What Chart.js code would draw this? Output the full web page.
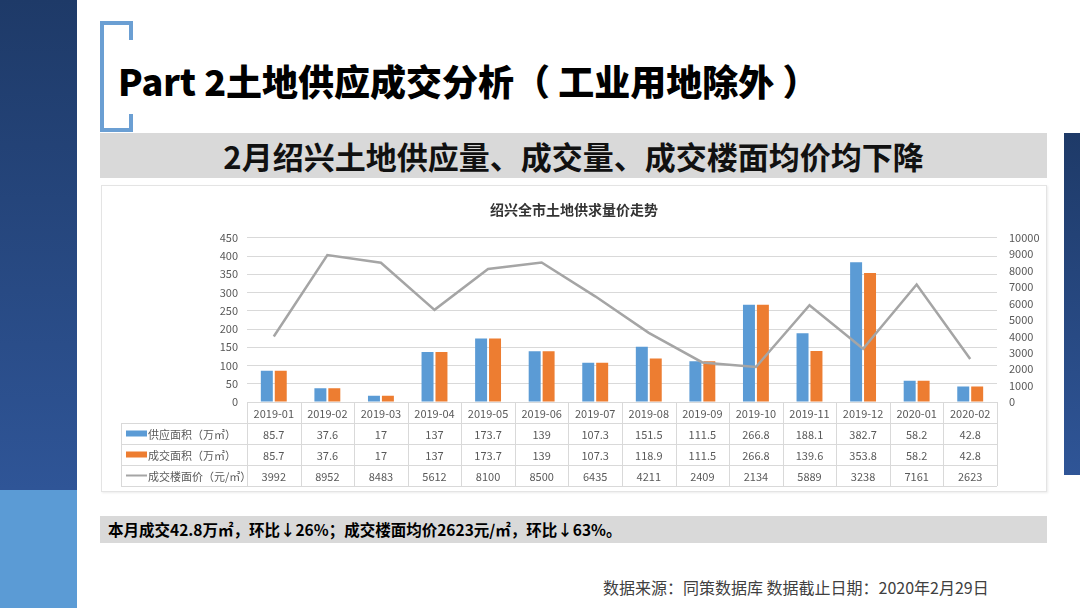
<!DOCTYPE html>
<html>
<head>
<meta charset="utf-8">
<script src="https://cdn.jsdelivr.net/npm/chart.js@4.4.1/dist/chart.umd.min.js"></script>
<style>
  body { margin: 0; width: 1080px; height: 608px; position: relative; overflow: hidden; background: #fff;
         font-family: "Noto Sans CJK SC", "Noto Sans", sans-serif; }
  .abs { position: absolute; }
  #leftBar { left: 0; top: 0; width: 77px; height: 490px; background: linear-gradient(#1e3a68, #2f5597); }
  #leftBarLow { left: 0; top: 490px; width: 77px; height: 118px; background: #5b9bd5; }
  #rightBar { left: 1064px; top: 133px; width: 16px; height: 342px; background: linear-gradient(#1e3a68, #2f5597); }
  .br { background: #6b9fd3; }
  #title { left: 118px; top: 56px; font-size: 36px; font-weight: 900; line-height: 48px; color: #000; white-space: nowrap; }
  #subBand { left: 100px; top: 133px; width: 947px; height: 45px; background: #d9d9d9;
             font-size: 31px; font-weight: 700; line-height: 45px; text-align: center; color: #111; }
  #chartBox { left: 101px; top: 185px; width: 946px; height: 307px; box-sizing: border-box;
              border: 1px solid #e4e4e4; box-shadow: 1px 1px 2px rgba(0,0,0,0.08); background: #fff; }
  #chartBox canvas { position: absolute; left: 0; top: 0; }
  #summary { left: 100px; top: 516px; width: 947px; height: 27px; background: #d9d9d9; box-sizing: border-box;
             padding-left: 8px; font-size: 15.5px; font-weight: 700; line-height: 27px; color: #000; white-space: nowrap; }
  #footer { left: 603px; top: 575px; font-size: 16px; line-height: 24px; color: #404040; white-space: nowrap; }
</style>
</head>
<body>
<div class="abs" id="leftBar"></div>
<div class="abs" id="leftBarLow"></div>
<div class="abs" id="rightBar"></div>

<!-- bracket -->
<div class="abs br" style="left:100px;top:21px;width:4px;height:111px"></div>
<div class="abs br" style="left:100px;top:21px;width:33px;height:4px"></div>
<div class="abs br" style="left:129px;top:21px;width:4px;height:19px"></div>
<div class="abs br" style="left:100px;top:128px;width:33px;height:4px"></div>
<div class="abs br" style="left:129px;top:114px;width:4px;height:18px"></div>

<div class="abs" id="title">Part 2土地供应成交分析（ 工业用地除外 ）</div>
<div class="abs" id="subBand">2月绍兴土地供应量、成交量、成交楼面均价均下降</div>

<div class="abs" id="chartBox">
  <canvas id="chart" width="944" height="305"></canvas>
</div>

<div class="abs" id="summary">本月成交42.8万㎡，环比↓26%；成交楼面均价2623元/㎡，环比↓63%。</div>
<div class="abs" id="footer">数据来源：同策数据库 数据截止日期：2020年2月29日</div>

<script>
// chart data
const categories = ['2019-01', '2019-02', '2019-03', '2019-04', '2019-05', '2019-06', '2019-07',
                    '2019-08', '2019-09', '2019-10', '2019-11', '2019-12', '2020-01', '2020-02'];
const supplyArea = [85.7, 37.6, 17, 137, 173.7, 139, 107.3, 151.5, 111.5, 266.8, 188.1, 382.7, 58.2, 42.8];
const dealArea = [85.7, 37.6, 17, 137, 173.7, 139, 107.3, 118.9, 111.5, 266.8, 139.6, 353.8, 58.2, 42.8];
const dealPrice = [3992, 8952, 8483, 5612, 8100, 8500, 6435, 4211, 2409, 2134, 5889, 3238, 7161, 2623];
const seriesNames = ['供应面积（万㎡）', '成交面积（万㎡）', '成交楼面价（元/㎡）'];

const BLUE = '#5b9bd5';
const ORANGE = '#ed7d31';
const GRAY = '#a5a5a5';
const TEXT = '#595959';
const LINE = '#d9d9d9';
const FONT = '"Noto Sans CJK SC", "Noto Sans", sans-serif';

// draws the excel style data table under the plot, columns follow the x scale
const dataTable = {
    id: 'dataTable',
    afterDraw(chart) {
        const ctx = chart.ctx;
        const x = chart.scales.x;
        const top = Math.round(chart.chartArea.bottom);
        const rowH = 21;
        const tableLeft = 19;
        const colW = (x.right - x.left) / categories.length;
        const rows = [supplyArea, dealArea, dealPrice];

        ctx.save();
        ctx.strokeStyle = LINE;
        ctx.lineWidth = 1;
        ctx.beginPath();
        // horizontal lines
        ctx.moveTo(x.left, top + 0.5);
        ctx.lineTo(x.right, top + 0.5);
        for (let r = 1; r <= 4; r++) {
            const y = top + r * rowH + 0.5;
            ctx.moveTo(tableLeft, y);
            ctx.lineTo(x.right, y);
        }
        // vertical lines
        for (let i = 0; i <= categories.length; i++) {
            const xx = Math.round(x.left + i * colW) + 0.5;
            ctx.moveTo(xx, top);
            ctx.lineTo(xx, top + 4 * rowH);
        }
        ctx.moveTo(tableLeft + 0.5, top + rowH);
        ctx.lineTo(tableLeft + 0.5, top + 4 * rowH);
        ctx.stroke();

        ctx.fillStyle = TEXT;
        ctx.font = '11px ' + FONT;
        ctx.textAlign = 'center';
        ctx.textBaseline = 'middle';
        categories.forEach((c, i) => {
            const cx = x.getPixelForValue(i);
            ctx.fillText(c, cx, top + rowH / 2 + 1);
            rows.forEach((vals, r) => {
                ctx.fillText(String(vals[i]), cx, top + (r + 1.5) * rowH + 1);
            });
        });

        // legend keys in the first column
        const keyColors = [BLUE, ORANGE, GRAY];
        keyColors.forEach((col, r) => {
            const cy = top + (r + 1.5) * rowH;
            ctx.fillStyle = col;
            if (r < 2) ctx.fillRect(tableLeft + 5, cy - 3, 21, 6);
            else ctx.fillRect(tableLeft + 5, cy - 1, 21, 2);
            ctx.fillStyle = TEXT;
            ctx.textAlign = 'left';
            ctx.fillText(seriesNames[r], tableLeft + 27, cy + 1);
        });
        ctx.restore();
    }
};

new Chart(document.getElementById('chart'), {
    data: {
        labels: categories,
        datasets: [
            {
                type: 'line',
                label: seriesNames[2],
                data: dealPrice,
                yAxisID: 'y1',
                borderColor: GRAY,
                borderWidth: 2.5,
                pointRadius: 0,
                tension: 0,
                order: 0
            },
            {
                type: 'bar',
                label: seriesNames[0],
                data: supplyArea,
                yAxisID: 'y',
                backgroundColor: BLUE,
                categoryPercentage: 0.52,
                barPercentage: 0.86,
                order: 1
            },
            {
                type: 'bar',
                label: seriesNames[1],
                data: dealArea,
                yAxisID: 'y',
                backgroundColor: ORANGE,
                categoryPercentage: 0.52,
                barPercentage: 0.86,
                order: 2
            }
        ]
    },
    options: {
        responsive: false,
        animation: false,
        devicePixelRatio: 1,
        layout: { padding: { top: 0, bottom: 89, left: 0, right: 0 } },
        plugins: {
            legend: { display: false },
            tooltip: { enabled: false },
            title: {
                display: true,
                text: '绍兴全市土地供求量价走势',
                color: '#333',
                font: { family: FONT, size: 14, weight: 'bold' },
                padding: { top: 15, bottom: 20 }
            }
        },
        scales: {
            x: {
                display: false,
                offset: true
            },
            y: {
                position: 'left',
                min: 0,
                max: 450,
                ticks: { stepSize: 50, color: TEXT, padding: 9, font: { family: FONT, size: 11 } },
                grid: { color: LINE, drawTicks: false },
                border: { display: false },
                afterFit(scale) { scale.width = 145; }
            },
            y1: {
                position: 'right',
                min: 0,
                max: 10000,
                ticks: {
                    stepSize: 1000, color: TEXT, padding: 12, font: { family: FONT, size: 11 },
                    callback: (v) => String(v)
                },
                grid: { display: false, drawTicks: false },
                border: { display: false },
                afterFit(scale) { scale.width = 49; }
            }
        }
    },
    plugins: [dataTable]
});
</script>
</body>
</html>
